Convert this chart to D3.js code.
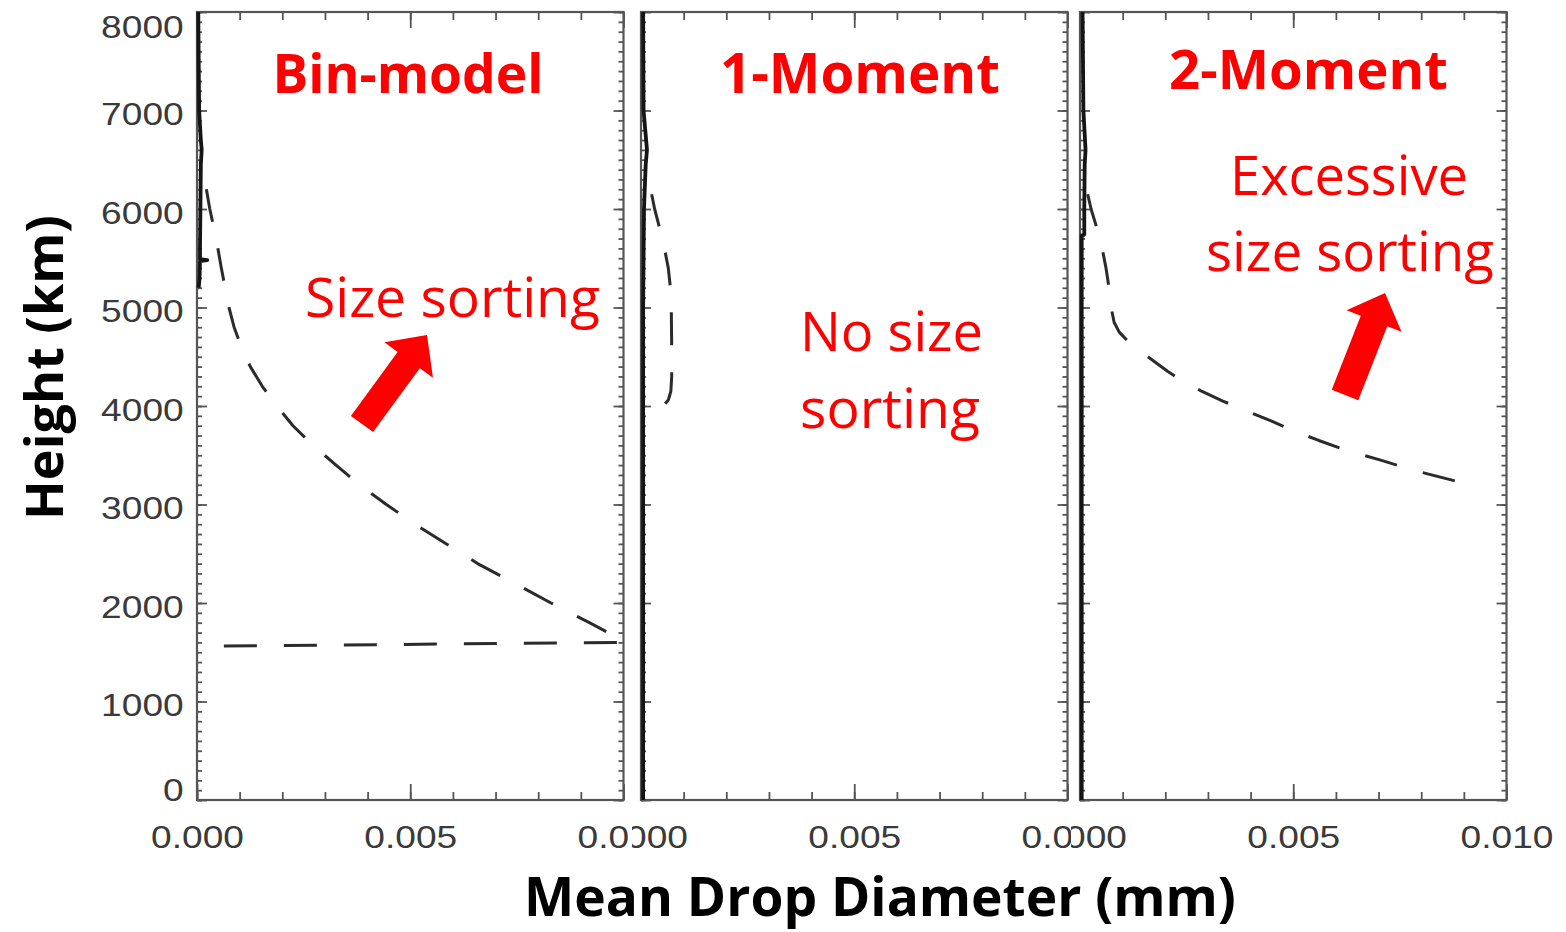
<!DOCTYPE html>
<html>
<head>
<meta charset="utf-8">
<script src="https://cdn.jsdelivr.net/npm/d3@7"></script>
<style>
  html, body { margin: 0; padding: 0; background: #fff; overflow: hidden; }
  svg { display: block; }
</style>
</head>
<body>
<svg id="chart" width="1566" height="932"></svg>
<script>
// ---- data -------------------------------------------------------------
const panelNames = ['Bin-model', '1-Moment', '2-Moment'];

const xTickValues = [0, 0.005, 0.010];
const xTickLabels = ['0.000', '0.005', '0.010'];
const yTickValues = [0, 1000, 2000, 3000, 4000, 5000, 6000, 7000, 8000];
const yTickLabels = ['0', '1000', '2000', '3000', '4000', '5000', '6000', '7000', '8000'];

// solid profiles (height m, mean diameter mm)
const binSolidHeight = [8000, 7000, 6700, 6600, 6450, 6000, 5600, 5490, 5480, 5470, 5300, 5200];
const binSolidDiam   = [0.00003, 0.00005, 0.00009, 0.00011, 0.00009, 0.00008, 0.00007, 0.00007, 0.00024, 0.00007, 0.00006, 0.00004];

const oneSolidHeight = [8000, 7000, 6600, 6450, 6000, 5000, 4000, 3000, 2000, 1000, 0];
const oneSolidDiam   = [0.00005, 0.00006, 0.00014, 0.00011, 0.00007, 0.00005, 0.00005, 0.00005, 0.00005, 0.00005, 0.00005];

const twoSolidHeight = [8000, 7000, 6600, 6450, 6000, 5740, 5730, 5000, 4000, 3000, 2000, 1000, 0];
const twoSolidDiam   = [0.00006, 0.00008, 0.00013, 0.00011, 0.00010, 0.00010, 0.00004, 0.00004, 0.00004, 0.00004, 0.00004, 0.00004, 0.00004];

// dashed profiles
const binDashHeight = [6200, 6000, 5800, 5600, 5400, 5200, 5000, 4800, 4600, 4400, 4200, 4000, 3800, 3600, 3400, 3200, 3000, 2800, 2600, 2400, 2200, 2000, 1800, 1650, 1600, 1560];
const binDashDiam   = [0.00022, 0.00030, 0.00040, 0.00049, 0.00057, 0.00066, 0.00075, 0.00087, 0.00104, 0.00125, 0.00153, 0.00187, 0.00225, 0.00272, 0.00326, 0.00381, 0.00444, 0.00511, 0.00585, 0.00658, 0.00745, 0.00830, 0.00920, 0.00985, 0.01000, 0.00000];

const oneDashHeight = [6150, 6000, 5800, 5600, 5400, 5200, 5000, 4600, 4300, 4150, 4060, 4000, 3970, 3960, 3958];
const oneDashDiam   = [0.00025, 0.00032, 0.00044, 0.00055, 0.00064, 0.00069, 0.00071, 0.00072, 0.00072, 0.00070, 0.00064, 0.00052, 0.00035, 0.00015, 0.00003];

const twoDashHeight = [6150, 6000, 5800, 5600, 5400, 5200, 5000, 4850, 4750, 4650, 4550, 4450, 4350, 4250, 4150, 4050, 3950, 3850, 3750, 3650, 3550, 3450, 3350, 3250, 3170];
const twoDashDiam   = [0.00018, 0.00026, 0.00040, 0.00052, 0.00061, 0.00068, 0.00073, 0.00080, 0.00092, 0.00114, 0.00143, 0.00175, 0.00206, 0.00242, 0.00285, 0.00335, 0.00390, 0.00448, 0.00500, 0.00560, 0.00625, 0.00705, 0.00780, 0.00870, 0.00935];

const zip = (d, h) => d.map((v, i) => [v, h[i]]);
const panels = [
  { solid: zip(binSolidDiam, binSolidHeight), dashed: zip(binDashDiam, binDashHeight) },
  { solid: zip(oneSolidDiam, oneSolidHeight), dashed: zip(oneDashDiam, oneDashHeight) },
  { solid: zip(twoSolidDiam, twoSolidHeight), dashed: zip(twoDashDiam, twoDashHeight) }
];

// ---- layout ----------------------------------------------------------
const W = 1566, H = 932;
const plotTop = 12, plotBottom = 800;
const panelLeft = [197, 641, 1080];
const panelWidth = 426.5;
const sheetStart = [0, 632, 1071, W];   // each panel sheet overlaps the previous one
const frameColor = '#555';
const labelColor = '#3a3a3a';
const red = '#ff0000';
const labelStretch = 1.16;

const svg = d3.select('#chart');
const defs = svg.append('defs');

const y = d3.scaleLinear().domain([0, 8000]).range([plotBottom, plotTop]);
const minorX = d3.range(0, 0.0105, 0.001);
const minorY = d3.range(0, 8001, 100);

function tidy(g) {
  g.select('.domain').remove();
  g.attr('color', frameColor).attr('font-size', null).attr('font-family', null);
  g.selectAll('.tick line').attr('stroke-width', 1.8);
}

panels.forEach((p, i) => {
  const x = d3.scaleLinear().domain([0, 0.01]).range([panelLeft[i], panelLeft[i] + panelWidth]);
  const x0 = panelLeft[i], x1 = panelLeft[i] + panelWidth;

  defs.append('clipPath').attr('id', 'sheet' + i)
    .append('rect').attr('x', sheetStart[i]).attr('y', 0)
    .attr('width', sheetStart[i + 1] - sheetStart[i]).attr('height', H);

  const g = svg.append('g').attr('clip-path', `url(#sheet${i})`);
  g.append('rect').attr('x', sheetStart[i]).attr('y', 0)
    .attr('width', sheetStart[i + 1] - sheetStart[i]).attr('height', 870).attr('fill', '#fff');

  // bottom axis: minor + major ticks with labels
  g.append('g').attr('transform', `translate(0,${plotBottom})`)
    .call(d3.axisBottom(x).tickValues(minorX).tickSize(-8).tickFormat(''))
    .call(tidy);
  const xb = g.append('g').attr('transform', `translate(0,${plotBottom})`)
    .call(d3.axisBottom(x).tickValues(xTickValues).tickSize(-16).tickPadding(25)
      .tickFormat((d, j) => xTickLabels[j]))
    .call(tidy);
  xb.selectAll('text')
    .attr('font-family', '"Liberation Sans", Arial, sans-serif')
    .attr('font-size', 32).attr('fill', labelColor)
    .attr('transform', `scale(${labelStretch},1)`);

  // top axis
  g.append('g').attr('transform', `translate(0,${plotTop})`)
    .call(d3.axisTop(x).tickValues(minorX).tickSize(-8).tickFormat('')).call(tidy);
  g.append('g').attr('transform', `translate(0,${plotTop})`)
    .call(d3.axisTop(x).tickValues(xTickValues).tickSize(-16).tickFormat('')).call(tidy);

  // left axis
  g.append('g').attr('transform', `translate(${x0},0)`)
    .call(d3.axisLeft(y).tickValues(minorY).tickSize(-5).tickFormat('')).call(tidy);
  const yl = g.append('g').attr('transform', `translate(${x0},0)`)
    .call(d3.axisLeft(y).tickValues(yTickValues).tickSize(-10).tickPadding(11.5)
      .tickFormat((d, j) => i === 0 ? yTickLabels[j] : ''))
    .call(tidy);
  yl.selectAll('text')
    .attr('font-family', '"Liberation Sans", Arial, sans-serif')
    .attr('font-size', 32).attr('fill', labelColor)
    .attr('dy', null).attr('dominant-baseline', 'central')
    .attr('y', d => d === 8000 ? 14 : (d === 0 ? -11 : 3))
    .attr('transform', `scale(${labelStretch},1)`);

  // right axis
  g.append('g').attr('transform', `translate(${x1},0)`)
    .call(d3.axisRight(y).tickValues(minorY).tickSize(-5).tickFormat('')).call(tidy);
  g.append('g').attr('transform', `translate(${x1},0)`)
    .call(d3.axisRight(y).tickValues(yTickValues).tickSize(-10).tickFormat('')).call(tidy);

  // frame
  g.append('rect').attr('x', x0).attr('y', plotTop)
    .attr('width', panelWidth).attr('height', plotBottom - plotTop)
    .attr('fill', 'none').attr('stroke', frameColor).attr('stroke-width', 2.2);

  const line = d3.line().x(d => x(d[0])).y(d => y(d[1]));

  g.append('path').datum(p.dashed).attr('d', line)
    .attr('fill', 'none').attr('stroke', '#2b2b2b').attr('stroke-width', 3)
    .attr('stroke-dasharray', '33 27').attr('stroke-linejoin', 'round');

  g.append('path').datum(p.solid).attr('d', line)
    .attr('fill', 'none').attr('stroke', '#151515').attr('stroke-width', 3.8)
    .attr('stroke-linejoin', 'round');
});

// ---- annotations -----------------------------------------------------
const ann = svg.append('g');

function fitText(t, width) {
  const w = t.node().getComputedTextLength();
  t.attr('font-size', parseFloat(t.attr('font-size')) * width / w);
  return t;
}

function label(text, cx, baseline, width, opts) {
  const t = ann.append('text')
    .attr('x', cx).attr('y', baseline)
    .attr('text-anchor', 'middle')
    .attr('font-family', '"Open Sans", "Noto Sans", sans-serif')
    .attr('font-weight', opts.bold ? 700 : 400)
    .attr('font-size', 50)
    .attr('fill', opts.color)
    .text(text);
  return fitText(t, width);
}

// panel titles
const titleSpec = [
  { cx: 408, base: 93, w: 271 },
  { cx: 860, base: 93, w: 280 },
  { cx: 1308.5, base: 89, w: 279 }
];
panelNames.forEach((name, i) => {
  label(name, titleSpec[i].cx, titleSpec[i].base, titleSpec[i].w, { bold: true, color: red });
});

label('Size sorting', 452.5, 317, 295, { color: red });
label('No size', 891.5, 351, 183, { color: red });
label('sorting', 890, 428, 180, { color: red });
label('Excessive', 1349, 195, 238, { color: red });
label('size sorting', 1350, 271, 288, { color: red });

// block arrows
function arrowPath(xa, ya, xb, yb, sw, hw, hl) {
  const dx = xb - xa, dy = yb - ya, L = Math.hypot(dx, dy);
  const ux = dx / L, uy = dy / L, nx = -uy, ny = ux;
  const bx = xb - ux * hl, by = yb - uy * hl;
  const pts = [
    [xa + nx * sw / 2, ya + ny * sw / 2],
    [bx + nx * sw / 2, by + ny * sw / 2],
    [bx + nx * hw / 2, by + ny * hw / 2],
    [xb, yb],
    [bx - nx * hw / 2, by - ny * hw / 2],
    [bx - nx * sw / 2, by - ny * sw / 2],
    [xa - nx * sw / 2, ya - ny * sw / 2]
  ];
  return d3.line()(pts) + 'Z';
}
ann.append('path').attr('d', arrowPath(362, 424, 427, 335, 27.5, 60, 31)).attr('fill', red);
ann.append('path').attr('d', arrowPath(1345, 395, 1385, 293, 28.5, 59, 30)).attr('fill', red);

// axis titles
const yt = ann.append('text')
  .attr('transform', 'translate(63,367.5) rotate(-90)')
  .attr('text-anchor', 'middle')
  .attr('font-family', '"Open Sans", "Noto Sans", sans-serif')
  .attr('font-weight', 700).attr('font-size', 52).attr('fill', '#000')
  .text('Height (km)');
fitText(yt, 305);

label('Mean Drop Diameter (mm)', 880, 916, 712, { bold: true, color: '#000' });
</script>
</body>
</html>
